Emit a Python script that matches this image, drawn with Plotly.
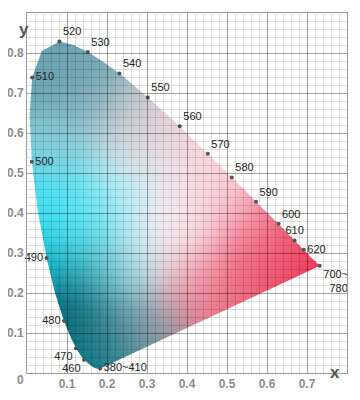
import numpy as np
import plotly.graph_objects as go

# ---- data ----
# labelled points on the spectral locus
mark_labels = ["380~410", "460", "470", "480", "490", "500", "510", "520", "530",
               "540", "550", "560", "570", "580", "590", "600", "610", "620",
               "700~<br>\u00a0\u00a0780"]
mark_x = [0.183, 0.1425, 0.1225, 0.0925, 0.049, 0.012, 0.013, 0.081, 0.152,
          0.231, 0.302, 0.382, 0.452, 0.512, 0.5725, 0.629, 0.669, 0.692, 0.732]
mark_y = [0.011, 0.033, 0.062, 0.130, 0.2875, 0.528, 0.739, 0.829, 0.8025,
          0.749, 0.689, 0.617, 0.548, 0.489, 0.428, 0.373, 0.331, 0.308, 0.268]
mark_pos = ["middle right", "bottom left", "bottom left", "middle left", "middle left",
            "middle right", "middle right", "top right", "top right", "top right",
            "top right", "top right", "top right", "top right", "top right",
            "top right", "top center", "middle right", "bottom right"]

# full outline of the locus (380 nm -> 700 nm, closed by the purple line)
locus_x = [0.183, 0.178, 0.168, 0.158, 0.1425, 0.134, 0.1225, 0.109, 0.0925, 0.070,
           0.049, 0.027, 0.012, 0.0065, 0.013, 0.037, 0.081, 0.117, 0.152, 0.192,
           0.231, 0.266, 0.302, 0.342, 0.382, 0.417, 0.452, 0.482, 0.512, 0.543,
           0.5725, 0.602, 0.629, 0.669, 0.692, 0.709, 0.726, 0.732]
locus_y = [0.011, 0.010, 0.013, 0.020, 0.033, 0.044, 0.062, 0.090, 0.130, 0.200,
           0.2875, 0.405, 0.528, 0.645, 0.739, 0.805, 0.829, 0.820, 0.8025, 0.777,
           0.749, 0.720, 0.689, 0.653, 0.617, 0.582, 0.548, 0.519, 0.489, 0.459,
           0.428, 0.399, 0.373, 0.331, 0.308, 0.290, 0.274, 0.268]

# colour anchors of the shaded region
anchor_x = [0.06, 0.15, 0.25, 0.33, 0.45, 0.50, 0.60, 0.66, 0.72, 0.55, 0.45, 0.40,
            0.38, 0.30, 0.25, 0.08, 0.05, 0.12, 0.04, 0.11, 0.16, 0.22, 0.31, 0.19,
            0.25, 0.36, 0.30, 0.18]
anchor_y = [0.76, 0.72, 0.64, 0.62, 0.52, 0.42, 0.36, 0.31, 0.27, 0.27, 0.19, 0.25,
            0.35, 0.32, 0.46, 0.56, 0.42, 0.38, 0.28, 0.16, 0.05, 0.10, 0.11, 0.26,
            0.26, 0.45, 0.55, 0.40]
anchor_rgb = [(106, 163, 176), (118, 168, 180), (175, 196, 202), (246, 208, 215),
              (252, 210, 218), (250, 198, 208), (245, 130, 150), (242, 85, 110),
              (238, 45, 80), (240, 95, 118), (236, 110, 130), (246, 178, 190),
              (252, 236, 240), (250, 253, 254), (195, 240, 247), (135, 205, 218),
              (65, 228, 248), (70, 228, 245), (20, 185, 205), (0, 92, 108),
              (0, 122, 137), (80, 140, 152), (150, 160, 170), (50, 165, 180),
              (165, 228, 236), (246, 232, 236), (225, 228, 232), (120, 230, 244)]

# ---- build the shaded image ----
step = 0.0025
W, H = 320, 360
xc = (np.arange(W) + 0.5) * step
yc = (np.arange(H) + 0.5) * step
X, Y = np.meshgrid(xc, yc)


def inside(px, py, vx, vy):
    vx = np.asarray(vx); vy = np.asarray(vy)
    res = np.zeros(px.shape, dtype=bool)
    j = len(vx) - 1
    for i in range(len(vx)):
        yi, yj, xi, xj = vy[i], vy[j], vx[i], vx[j]
        cross = (yi > py) != (yj > py)
        xint = (xj - xi) * (py - yi) / ((yj - yi) if yj != yi else 1e-12) + xi
        res ^= cross & (px < xint)
        j = i
    return res


# alpha with 3x3 supersampling
ss = 3
sub = (np.arange(ss) + 0.5) / ss - 0.5
alpha = np.zeros((H, W))
for a in sub:
    for b in sub:
        alpha += inside(X + a * step, Y + b * step, locus_x, locus_y)
alpha /= ss * ss

ax = np.array(anchor_x)[:, None, None]
ay = np.array(anchor_y)[:, None, None]
col = np.array(anchor_rgb, dtype=float)
sigma = 0.07
w = np.exp(-((X[None] - ax) ** 2 + (Y[None] - ay) ** 2) / (2 * sigma ** 2)) + 1e-12
w /= w.sum(axis=0, keepdims=True)
rgb = np.einsum('kij,kc->ijc', w, col)

img = np.zeros((H, W, 4))
img[..., :3] = np.round(rgb)
img[..., 3] = np.round(alpha, 3)

fig = go.Figure()
fig.add_trace(go.Image(z=img.tolist(), colormodel="rgba", x0=xc[0], dx=step,
                       y0=yc[0], dy=step, hoverinfo="skip"))

fig.add_trace(go.Scatter(
    x=mark_x, y=mark_y, mode="markers+text", text=mark_labels,
    textposition=mark_pos, cliponaxis=False,
    marker=dict(size=4, color="#555555"),
    textfont=dict(family="Liberation Sans, Arial", size=11, color="#262626"),
    hoverinfo="skip", showlegend=False))

# grid drawn on top of the shading (semi-transparent)
shapes = []
for g in np.round(np.arange(0.02, 0.8, 0.02), 2):
    major = abs(g * 10 - round(g * 10)) < 1e-6
    shapes.append(dict(type="line", xref="x", yref="paper", xsizemode="pixel",
                       xanchor=g, x0=0.5, x1=0.5, y0=0, y1=1, layer="above",
                       line=dict(width=1, color="rgba(0,0,0,0.36)" if major else "rgba(0,0,0,0.12)")))
for g in np.round(np.arange(0.02, 0.9, 0.02), 2):
    major = abs(g * 10 - round(g * 10)) < 1e-6
    shapes.append(dict(type="line", xref="paper", yref="y", ysizemode="pixel",
                       yanchor=g, y0=-0.5, y1=-0.5, x0=0, x1=1, layer="above",
                       line=dict(width=1, color="rgba(0,0,0,0.36)" if major else "rgba(0,0,0,0.12)")))

tick_font = dict(family="Liberation Sans, Arial", size=12, color="#8c8c8c", weight="bold")
fig.update_layout(
    width=352, height=392,
    margin=dict(l=19, r=13, t=5, b=27, autoexpand=False),
    paper_bgcolor="white", plot_bgcolor="white",
    showlegend=False,
    shapes=shapes,
    xaxis=dict(range=[0, 0.8], showgrid=False, zeroline=False, automargin=False,
               tickvals=[0.1, 0.2, 0.3, 0.4, 0.5, 0.6, 0.7],
               ticktext=["0.1", "0.2", "0.3", "0.4", "0.5", "0.6", "0.7"],
               tickfont=tick_font, ticks="", showline=True, mirror=True,
               linecolor="#9a9a9a", linewidth=1),
    yaxis=dict(range=[0, 0.9], showgrid=False, zeroline=False, automargin=False,
               tickvals=[0.1, 0.2, 0.3, 0.4, 0.5, 0.6, 0.7, 0.8],
               ticktext=["0.1", "0.2", "0.3", "0.4", "0.5", "0.6", "0.7", "0.8"],
               tickfont=tick_font, ticks="", showline=True, mirror=True,
               linecolor="#9a9a9a", linewidth=1, autorange=False),
    annotations=[
        dict(text="0", x=0, y=0, xref="x", yref="y", showarrow=False,
             xshift=-7, yshift=-7, font=tick_font),
        dict(text="y", x=0, y=1, xref="paper", yref="paper", showarrow=False,
             xshift=-10, yshift=-5,
             font=dict(family="Liberation Sans, Arial", size=17, color="#555555", weight="bold")),
        dict(text="x", x=1, y=0, xref="paper", yref="paper", showarrow=False,
             xshift=-5, yshift=-11,
             font=dict(family="Liberation Sans, Arial", size=17, color="#555555", weight="bold")),
    ],
)

fig.write_html("out.html")
